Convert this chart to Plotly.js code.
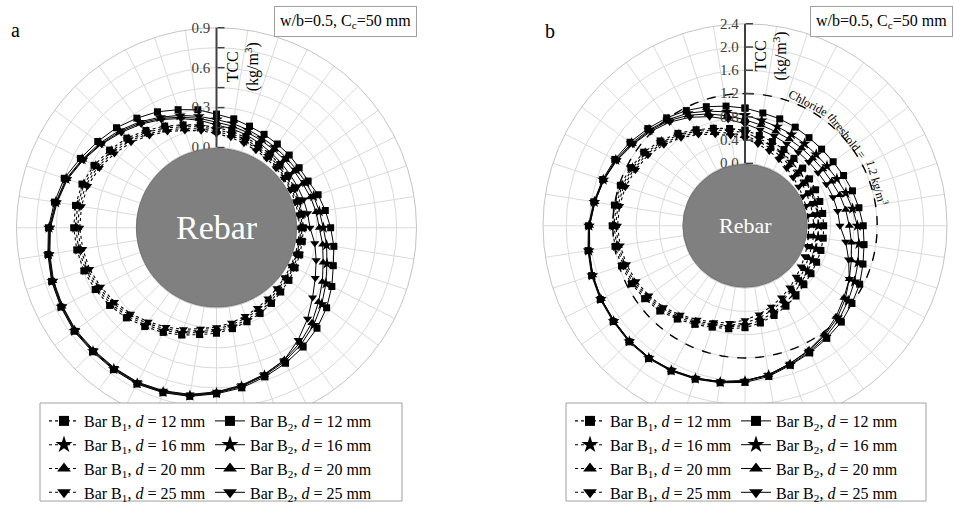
<!DOCTYPE html>
<html><head><meta charset="utf-8">
<script src="https://cdn.plot.ly/plotly-3.0.1.min.js"></script>
<style>html,body{margin:0;padding:0;background:#fff}#chart{width:954px;height:510px}</style>
</head><body><div id="chart"></div>
<script>
// angular positions (degrees, clockwise from top)
const thetaDeg = [0,9,18,27,36,45,54,63,72,81,90,99,108,117,126,135,144,153,162,171,180,189,198,207,216,225,234,243,252,261,270,279,288,297,306,315,324,333,342,351];
const diameters = ['12','16','20','25'];
const symbols = ['square','star','triangle-up','triangle-down'];

// Panel a: TCC (kg/m3)
const a_B1_12 = [0.15,0.13,0.11,0.095,0.08,0.07,0.06,0.055,0.05,0.05,0.05,0.05,0.055,0.06,0.07,0.08,0.10,0.12,0.14,0.165,0.19,0.21,0.245,0.28,0.315,0.355,0.39,0.42,0.445,0.46,0.47,0.47,0.46,0.43,0.39,0.35,0.30,0.255,0.21,0.18];
const a_B1_16 = [0.135,0.115,0.095,0.08,0.065,0.055,0.048,0.043,0.04,0.04,0.04,0.04,0.043,0.048,0.055,0.065,0.085,0.105,0.125,0.15,0.175,0.195,0.23,0.265,0.30,0.34,0.375,0.405,0.43,0.445,0.455,0.455,0.445,0.415,0.375,0.335,0.285,0.24,0.195,0.165];
const a_B1_20 = [0.12,0.10,0.08,0.065,0.052,0.042,0.036,0.032,0.03,0.03,0.03,0.03,0.032,0.036,0.042,0.052,0.07,0.09,0.11,0.135,0.16,0.18,0.215,0.25,0.285,0.325,0.36,0.39,0.415,0.43,0.44,0.44,0.43,0.40,0.36,0.32,0.27,0.225,0.18,0.15];
const a_B1_25 = [0.105,0.085,0.065,0.05,0.04,0.03,0.025,0.022,0.02,0.02,0.02,0.02,0.022,0.025,0.03,0.04,0.055,0.075,0.095,0.12,0.145,0.165,0.20,0.235,0.27,0.31,0.345,0.375,0.40,0.415,0.425,0.425,0.415,0.385,0.345,0.305,0.255,0.21,0.165,0.135];
const a_B2_12 = [0.25,0.226,0.20,0.185,0.175,0.17,0.165,0.17,0.20,0.225,0.255,0.29,0.32,0.37,0.42,0.465,0.505,0.54,0.575,0.615,0.645,0.68,0.70,0.715,0.715,0.715,0.72,0.71,0.70,0.68,0.66,0.63,0.60,0.545,0.50,0.46,0.415,0.375,0.33,0.295];
const a_B2_16 = [0.21,0.19,0.17,0.155,0.145,0.14,0.14,0.15,0.165,0.18,0.20,0.235,0.27,0.32,0.375,0.43,0.48,0.525,0.565,0.605,0.64,0.675,0.695,0.71,0.71,0.71,0.715,0.705,0.695,0.675,0.655,0.62,0.585,0.53,0.48,0.43,0.38,0.33,0.285,0.245];
const a_B2_20 = [0.19,0.17,0.15,0.135,0.125,0.12,0.12,0.125,0.14,0.155,0.17,0.205,0.24,0.29,0.345,0.41,0.465,0.515,0.56,0.60,0.635,0.67,0.69,0.705,0.705,0.705,0.71,0.70,0.69,0.67,0.65,0.615,0.58,0.525,0.47,0.42,0.37,0.32,0.27,0.23];
const a_B2_25 = [0.17,0.15,0.13,0.11,0.095,0.085,0.08,0.08,0.085,0.09,0.10,0.145,0.185,0.23,0.29,0.365,0.44,0.515,0.555,0.595,0.63,0.665,0.685,0.70,0.70,0.70,0.705,0.695,0.685,0.665,0.645,0.61,0.575,0.52,0.465,0.41,0.36,0.31,0.26,0.215];

// Panel b: TCC (kg/m3)
const b_B1_12 = [0.57,0.50,0.45,0.40,0.36,0.33,0.30,0.29,0.28,0.28,0.28,0.29,0.30,0.31,0.33,0.36,0.42,0.48,0.55,0.62,0.68,0.72,0.76,0.83,0.91,1.00,1.06,1.12,1.16,1.19,1.21,1.20,1.18,1.13,1.08,0.99,0.89,0.78,0.69,0.62];
const b_B1_16 = [0.53,0.45,0.39,0.34,0.29,0.25,0.22,0.20,0.19,0.19,0.19,0.20,0.21,0.23,0.26,0.30,0.36,0.43,0.50,0.58,0.64,0.69,0.73,0.80,0.88,0.97,1.03,1.09,1.13,1.16,1.18,1.17,1.15,1.10,1.05,0.96,0.86,0.75,0.66,0.58];
const b_B1_20 = [0.48,0.40,0.33,0.27,0.22,0.18,0.15,0.12,0.11,0.11,0.11,0.12,0.13,0.15,0.19,0.24,0.30,0.37,0.45,0.53,0.60,0.66,0.70,0.77,0.85,0.94,1.00,1.06,1.10,1.13,1.15,1.14,1.12,1.07,1.02,0.93,0.83,0.72,0.62,0.54];
const b_B1_25 = [0.43,0.35,0.28,0.21,0.15,0.10,0.07,0.04,0.03,0.02,0.02,0.03,0.05,0.08,0.12,0.17,0.24,0.31,0.39,0.47,0.55,0.62,0.67,0.74,0.82,0.91,0.97,1.03,1.07,1.10,1.12,1.11,1.09,1.04,0.99,0.90,0.80,0.69,0.58,0.50];
const b_B2_12 = [0.95,0.89,0.86,0.83,0.80,0.79,0.80,0.83,0.87,0.91,0.96,1.00,1.06,1.14,1.20,1.27,1.32,1.38,1.45,1.55,1.62,1.66,1.70,1.73,1.75,1.75,1.73,1.72,1.70,1.66,1.62,1.56,1.50,1.44,1.37,1.29,1.22,1.15,1.08,1.01];
const b_B2_16 = [0.83,0.76,0.72,0.69,0.67,0.66,0.67,0.70,0.75,0.80,0.86,0.91,0.97,1.04,1.12,1.21,1.29,1.36,1.44,1.53,1.60,1.65,1.69,1.72,1.74,1.74,1.72,1.71,1.69,1.65,1.61,1.55,1.49,1.42,1.34,1.26,1.18,1.10,1.00,0.91];
const b_B2_20 = [0.75,0.68,0.63,0.60,0.58,0.57,0.58,0.60,0.64,0.68,0.72,0.78,0.85,0.94,1.03,1.14,1.24,1.33,1.42,1.52,1.59,1.64,1.68,1.71,1.73,1.73,1.71,1.70,1.68,1.64,1.60,1.54,1.48,1.41,1.32,1.24,1.16,1.06,0.95,0.84];
const b_B2_25 = [0.68,0.60,0.55,0.51,0.49,0.48,0.48,0.50,0.52,0.54,0.56,0.68,0.80,0.94,1.06,1.17,1.26,1.34,1.42,1.52,1.59,1.64,1.68,1.71,1.73,1.73,1.71,1.70,1.68,1.64,1.60,1.54,1.48,1.40,1.31,1.22,1.13,1.02,0.90,0.78];
const chlorideThreshold = 1.2;

const aTickVals = [0,0.15,0.3,0.45,0.6,0.75,0.9];
const aTickText = ['0.0','','0.3','','0.6','','0.9'];
const bTickVals = [0,0.4,0.8,1.2,1.6,2.0,2.4];
const bTickText = ['0.0','0.4','0.8','1.2','1.6','2.0','2.4'];

const FONT = 'Liberation Serif, Times New Roman, serif';
const W = 954, H = 510;
const PA = {cx:216.5, cy:230, R:202, hole:81};
const PB = {cx:745, cy:228, R:204, hole:63};
function dom(p){return {x:[(p.cx-p.R)/W,(p.cx+p.R)/W], y:[1-(p.cy+p.R)/H, 1-(p.cy-p.R)/H]};}
const fx = x => x/W, fy = y => 1-y/H;

const plotSize = [7, 9, 8, 8];
const keySize = [10, 13, 12, 12];
function style(bar){
  const solid = bar === 2;
  return {line:{color:'#000', width: solid?1:1.1, dash: solid?'solid':'dot'}};
}
function mk(r, k, bar, sub){
  return Object.assign({type:'scatterpolar', subplot:sub, showlegend:false,
    theta: thetaDeg.concat([360]), r: r.concat([r[0]]), mode:'lines+markers',
    marker:{symbol:symbols[k], size: plotSize[k], color:'#000'}, cliponaxis:false}, style(bar));
}
// legend-only entries (larger symbols, as in the reference key)
function lg(d, k, bar, sub, legend){
  return Object.assign({type:'scatterpolar', subplot:sub, legend:legend, showlegend:true,
    theta:[null], r:[null], mode:'lines+markers',
    name:'Bar B<sub>'+bar+'</sub>, <i>d</i> = '+d+' mm',
    marker:{symbol:symbols[k], size: keySize[k], color:'#000'}}, style(bar));
}
const aB1 = [a_B1_12,a_B1_16,a_B1_20,a_B1_25], aB2 = [a_B2_12,a_B2_16,a_B2_20,a_B2_25];
const bB1 = [b_B1_12,b_B1_16,b_B1_20,b_B1_25], bB2 = [b_B2_12,b_B2_16,b_B2_20,b_B2_25];
const traces = [];
diameters.forEach((d,k)=>traces.push(mk(aB1[k],k,1,'polar')));
diameters.forEach((d,k)=>traces.push(mk(aB2[k],k,2,'polar')));
const thrTheta = []; for(let t=0;t<=360;t+=2) thrTheta.push(t);
traces.push({type:'scatterpolar', subplot:'polar2', theta:thrTheta, r:thrTheta.map(()=>chlorideThreshold), mode:'lines', showlegend:false, line:{color:'#000', width:1.4, dash:'dash'}});
diameters.forEach((d,k)=>traces.push(mk(bB1[k],k,1,'polar2')));
diameters.forEach((d,k)=>traces.push(mk(bB2[k],k,2,'polar2')));
diameters.forEach((d,k)=>traces.push(lg(d,k,1,'polar','legend')));
diameters.forEach((d,k)=>traces.push(lg(d,k,2,'polar','legend2')));
diameters.forEach((d,k)=>traces.push(lg(d,k,1,'polar2','legend3')));
diameters.forEach((d,k)=>traces.push(lg(d,k,2,'polar2','legend4')));

function polar(p, range, tv, tt){
  return {domain:dom(p), hole:p.hole/p.R, bgcolor:'#fff',
    angularaxis:{rotation:90, direction:'clockwise', tickmode:'linear', tick0:0, dtick:9,
      showticklabels:false, ticks:'', gridcolor:'#dadada', gridwidth:1, showline:true, linecolor:'#c4c4c4', linewidth:1},
    radialaxis:{range:range, angle:90, tickangle:90, tickmode:'array', tickvals:tv, ticktext:tt,
      showline:true, linecolor:'#404040', linewidth:2, gridcolor:'#dadada', gridwidth:1,
      ticks:'inside', ticklen:7, tickcolor:'#404040', tickwidth:1.5, side:'counterclockwise',
      tickfont:{family:FONT, size:15, color:'#404040'}, layer:'above traces'}};
}
function leg(x){return {x:fx(x), y:fy(408), xanchor:'left', yanchor:'top', orientation:'v',
  bgcolor:'rgba(0,0,0,0)', borderwidth:0, font:{family:FONT, size:16, color:'#000'}, itemwidth:30, tracegroupgap:0};}

const shapes = [];
[PA,PB].forEach(p=>{
  const rr = p.hole-1;
  shapes.push({type:'circle', xref:'paper', yref:'paper', x0:fx(p.cx-rr), x1:fx(p.cx+rr), y0:fy(p.cy+rr), y1:fy(p.cy-rr),
    fillcolor:'#808080', line:{color:'#707070', width:1}, layer:'above'});
});
[[40,402],[566,926]].forEach(b=>{
  shapes.push({type:'rect', xref:'paper', yref:'paper', x0:fx(b[0]), x1:fx(b[1]), y0:fy(506), y1:fy(407),
    fillcolor:'#fff', line:{color:'#a0a0a0', width:1}, layer:'above'});
});

const ann = [
  {text:'a', x:fx(15), y:fy(30), font:{size:20}},
  {text:'b', x:fx(550), y:fy(31), font:{size:20}},
  {text:'w/b=0.5, C<sub>c</sub>=50 mm', x:fx(345.5), y:fy(21.5), font:{size:16}, bordercolor:'#a0a0a0', borderwidth:1, borderpad:5, bgcolor:'#fff'},
  {text:'w/b=0.5, C<sub>c</sub>=50 mm', x:fx(881), y:fy(21.5), font:{size:16}, bordercolor:'#a0a0a0', borderwidth:1, borderpad:5, bgcolor:'#fff'},
  {text:'TCC<br>(kg/m<sup>3</sup>)', x:fx(243), y:fy(68), textangle:-90, font:{size:16}},
  {text:'TCC<br>(kg/m<sup>3</sup>)', x:fx(771), y:fy(57), textangle:-90, font:{size:16}},
  {text:'Rebar', x:fx(PA.cx), y:fy(PA.cy), font:{size:34, color:'#fff'}},
  {text:'Rebar', x:fx(PB.cx), y:fy(PB.cy), font:{size:22, color:'#fff'}},
  {text:'Chloride', x:fx(808), y:fy(104), textangle:28, font:{size:12}},
  {text:'threshold =', x:fx(847), y:fy(137), textangle:52, font:{size:12}},
  {text:'1.2 kg/m<sup>3</sup>', x:fx(877), y:fy(184), textangle:74, font:{size:12}}
].map(a=>Object.assign({xref:'paper', yref:'paper', showarrow:false, xanchor:'center', yanchor:'middle'}, a,
  {font:Object.assign({family:FONT, color:'#000'}, a.font)}));

const layout = {width:W, height:H, margin:{l:0,r:0,t:0,b:0}, paper_bgcolor:'#fff', plot_bgcolor:'#fff',
  font:{family:FONT, color:'#000'},
  polar:polar(PA,[0,0.9],aTickVals,aTickText),
  polar2:polar(PB,[0,2.4],bTickVals,bTickText),
  legend:leg(44), legend2:leg(210), legend3:leg(570), legend4:leg(736),
  shapes:shapes, annotations:ann, showlegend:true};
Plotly.newPlot('chart', traces, layout, {displayModeBar:false, staticPlot:true});
</script></body></html>
